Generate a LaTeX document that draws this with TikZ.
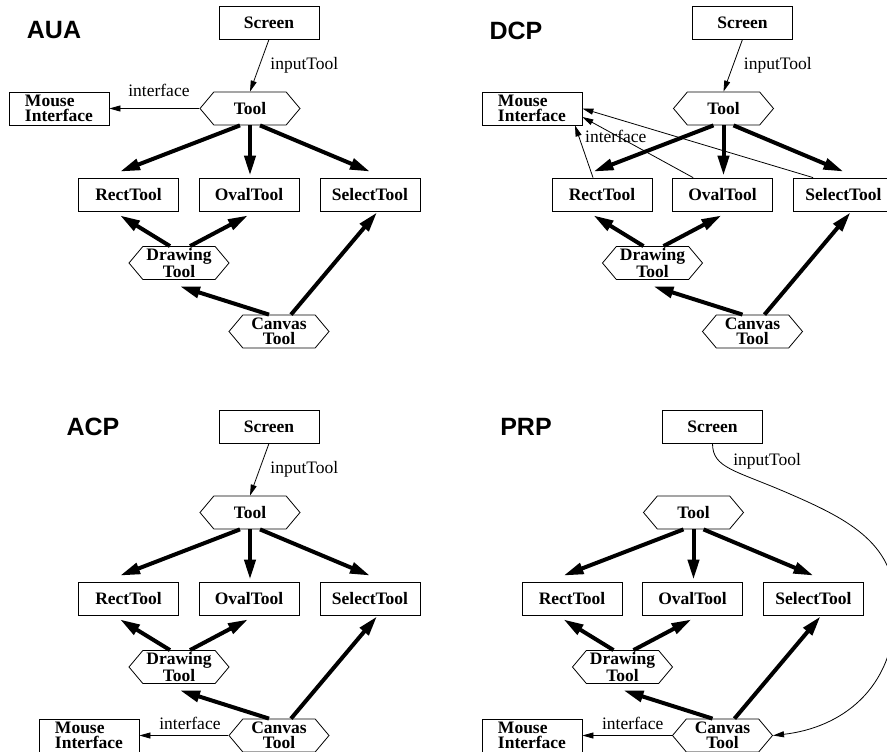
\documentclass[tikz,border=0pt]{standalone}
\usepackage{fontspec}
\setmainfont{Liberation Serif}
\setsansfont{Liberation Sans}
\usetikzlibrary{arrows.meta,shapes.symbols}

\newcommand{\clsfont}{\fontsize{17.5}{15.5}\selectfont}

\tikzset{
  cls/.style={draw, line width=0.8pt, minimum width=100pt, minimum height=33pt,
    inner sep=0pt, align=center, font=\clsfont\bfseries},
  hexa/.style={cls, signal, signal to=east and west, signal pointer angle=100},
  mouse/.style={cls, align=left},
  heavy/.style={line width=4pt, -{Triangle[length=20pt,width=11pt]}},
  light/.style={line width=0.8pt, -{Triangle[length=11pt,width=6pt]}},
  lbl/.style={font=\clsfont, inner sep=1pt},
  ttl/.style={font=\sffamily\bfseries\fontsize{25}{25}\selectfont, inner sep=0pt}
}

% one tool hierarchy, #1 = prefix of the node names
\newcommand{\toolgraph}[1]{%
  \node[cls]  (#1screen)  at (269,22.5)    {Screen};
  \node[hexa] (#1tool)    at (250,108.5)   {Tool};
  \node[cls]  (#1rect)    at (128.5,194.5) {RectTool};
  \node[cls]  (#1oval)    at (249,194.5)   {OvalTool};
  \node[cls]  (#1select)  at (370,194.5)   {SelectTool};
  \node[hexa] (#1drawing) at (179,263)     {Drawing\\Tool};
  \node[hexa] (#1canvas)  at (279,331.5)   {Canvas\\Tool};
  \draw[heavy] ([xshift=-10pt]#1tool.south) -- ([xshift=-8.5pt,yshift=6pt]#1rect.north);
  \draw[heavy] (#1tool.south) -- ([xshift=1pt,yshift=2pt]#1oval.north);
  \draw[heavy] ([xshift=10pt]#1tool.south) -- ([yshift=6pt]#1select.north);
  \draw[heavy] ([xshift=-9pt]#1drawing.north) -- ([xshift=-8.5pt,yshift=-4pt]#1rect.south);
  \draw[heavy] ([xshift=11pt]#1drawing.north) -- ([xshift=-1pt,yshift=-4pt]#1oval.south);
  \draw[heavy] ([xshift=-10pt]#1canvas.north) -- ([xshift=1pt,yshift=-6.5pt]#1drawing.south);
  \draw[heavy] ([xshift=12pt]#1canvas.north) -- ([xshift=7pt,yshift=-1pt]#1select.south);
}

\begin{document}
\begin{tikzpicture}[x=1pt,y=-1pt]

\path [use as bounding box] (0,0) rectangle (887,752);

% AUA
\toolgraph{aua}
\node[ttl] (auatitle) at (54,30.5) {AUA};
\node[mouse] (auamouse) at (59,108.5) {Mouse\\Interface};
\draw[light] (auascreen.south) -- (auatool.north)
  node[lbl, midway, anchor=west, xshift=9.5pt] (auainput) {inputTool};
\draw[light] (auatool.west) -- (auamouse.east)
  node[lbl, midway, above=10pt, xshift=4.5pt] (auaiface) {interface};

% DCP
\begin{scope}[shift={(473.5,0)}]
\toolgraph{dcp}
\node[ttl] (dcptitle) at (42.5,30.5) {DCP};
\node[mouse] (dcpmouse) at (58.5,108.5) {Mouse\\Interface};
\draw[light] (dcpscreen.south) -- (dcptool.north)
  node[lbl, midway, anchor=west, xshift=9.5pt] (dcpinput) {inputTool};
\draw[light] ([xshift=-9pt]dcprect.north) -- ([xshift=43pt]dcpmouse.south)
  node[lbl, pos=0.79, anchor=west, xshift=5pt] (dcpiface) {interface};
\draw[light] ([xshift=21pt]dcpoval.north west) -- ([yshift=-8.5pt]dcpmouse.east);
\draw[light] ([xshift=20pt]dcpselect.north west) -- (dcpmouse.east);
\end{scope}

% ACP
\begin{scope}[shift={(0,404)}]
\toolgraph{acp}
\node[ttl] (acptitle) at (93,22.5) {ACP};
\node[mouse] (acpmouse) at (89,331.5) {Mouse\\Interface};
\draw[light] (acpscreen.south) -- (acptool.north)
  node[lbl, midway, anchor=west, xshift=9.5pt] (acpinput) {inputTool};
\draw[light] (acpcanvas.west) -- (acpmouse.east)
  node[lbl, midway, above=4.5pt, xshift=6pt] (acpiface) {interface};
\end{scope}

% PRP
\begin{scope}[shift={(443.5,404)}]
\toolgraph{prp}
\node[ttl] (prptitle) at (82.5,22.5) {PRP};
\node[mouse] (prpmouse) at (88.5,331.5) {Mouse\\Interface};
\draw[light] (prpscreen.south) .. controls +(0,25) and (291.5,66) .. (346.5,90)
  node[lbl, pos=0.3, anchor=west, xshift=13pt] (prpinput) {inputTool}
  .. controls (406.5,116) and (454.5,141) .. (451.5,206)
  .. controls (451.5,286) and (396.5,324) .. (prpcanvas.east);
\draw[light] (prpcanvas.west) -- (prpmouse.east)
  node[lbl, midway, above=4.5pt, xshift=5.5pt] (prpiface) {interface};
\end{scope}

\end{tikzpicture}
\end{document}
